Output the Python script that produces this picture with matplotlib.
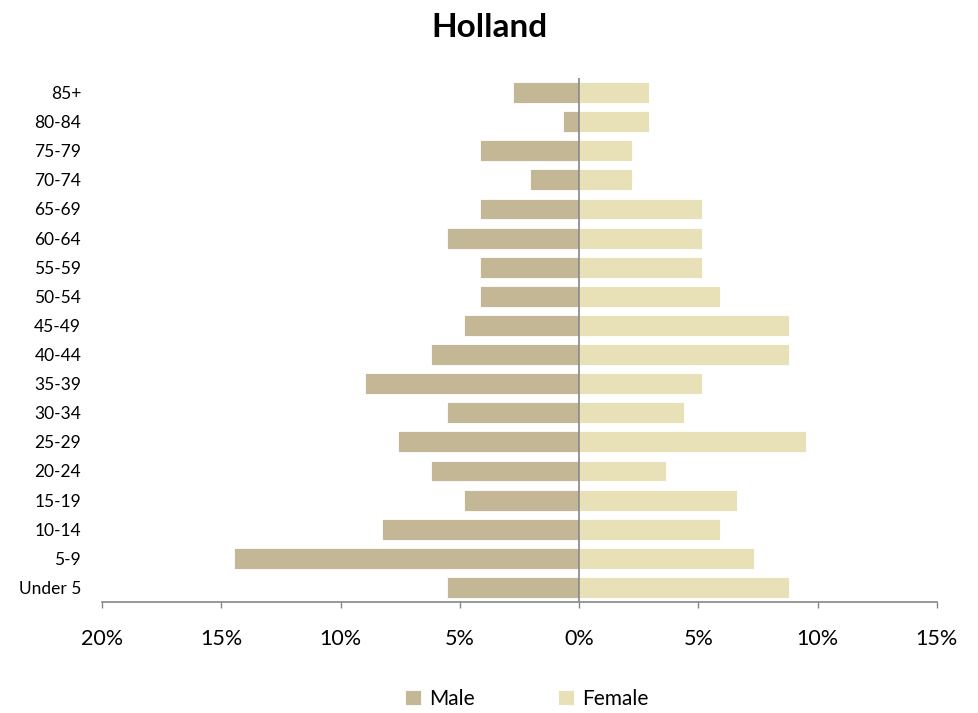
""" population pyramid for Holland """
import matplotlib
matplotlib.use('Agg')
import matplotlib.pyplot as plt
from matplotlib.ticker import FuncFormatter
import numpy as np

plt.rcParams['font.family'] = ['Lato', 'DejaVu Sans']

# age groups, bottom to top
age_groups = ['Under 5', '5-9', '10-14', '15-19', '20-24', '25-29', '30-34',
              '35-39', '40-44', '45-49', '50-54', '55-59', '60-64', '65-69',
              '70-74', '75-79', '80-84', '85+']

# share of each sex in percent
male = [5.52, 14.48, 8.28, 4.83, 6.21, 7.59, 5.52, 8.97, 6.21, 4.83,
        4.14, 4.14, 5.52, 4.14, 2.07, 4.14, 0.69, 2.76]
female = [8.79, 7.34, 5.90, 6.62, 3.66, 9.52, 4.38, 5.17, 8.79, 8.79,
          5.90, 5.17, 5.17, 5.17, 2.21, 2.21, 2.94, 2.94]

x_ticks = [-20, -15, -10, -5, 0, 5, 10, 15]

male_color = '#C4B796'
female_color = '#E8E1B8'
axis_color = '#868686'

fig = plt.figure(figsize=(9.79, 7.13), dpi=100)
ax = fig.add_axes([0.1042, 0.1557, 0.957 - 0.1042, 0.8906 - 0.1557])

y = np.arange(len(age_groups))
ax.barh(y, [-v for v in male], height=0.72, color=male_color,
        edgecolor='white', linewidth=0.6, label='Male')
ax.barh(y, female, height=0.72, color=female_color,
        edgecolor='white', linewidth=0.6, label='Female')

ax.axvline(0, color=axis_color, linewidth=1.2, zorder=3)

ax.set_xlim(-20, 15)
ax.set_ylim(-0.5, len(age_groups) - 0.5)
ax.set_xticks(x_ticks)
ax.xaxis.set_major_formatter(FuncFormatter(lambda v, p: '%d%%' % abs(v)))
ax.set_yticks(y)
ax.set_yticklabels(age_groups)

for s in ['left', 'top', 'right']:
    ax.spines[s].set_visible(False)
ax.spines['bottom'].set_color(axis_color)
ax.spines['bottom'].set_linewidth(1.2)

ax.tick_params(axis='x', length=4.5, width=1, color=axis_color, pad=15,
               labelsize=15.5, labelcolor='black')
ax.tick_params(axis='y', length=0, pad=15, labelsize=12.5, labelcolor='black')

fig.text(0.5, 0.961, 'Holland', ha='center', va='center',
         fontsize=24, fontweight='bold')

fig.legend(loc='center', bbox_to_anchor=(0.538, 0.02), ncol=2, frameon=False,
           fontsize=15, handlelength=0.75, handleheight=0.75,
           handletextpad=0.4, columnspacing=4.0)

fig.savefig('out.png', dpi=100)
